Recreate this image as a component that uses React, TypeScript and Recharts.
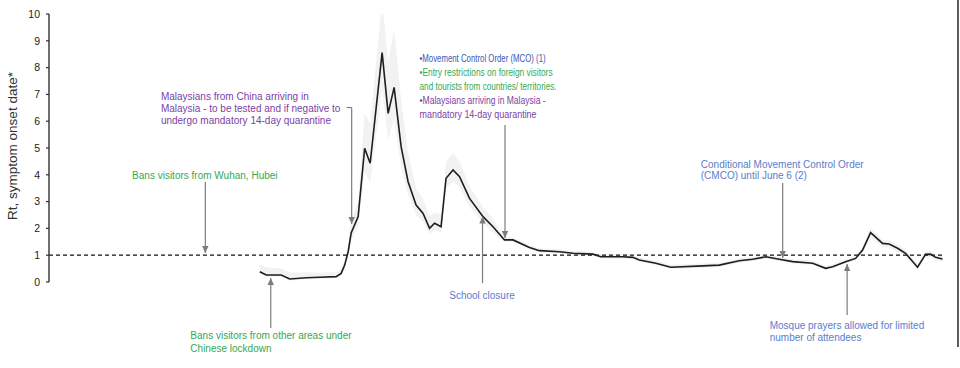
import React from 'react';
import {
  ComposedChart,
  Line,
  Area,
  XAxis,
  YAxis,
  ReferenceLine,
  ReferenceDot,
} from 'recharts';

// Days since the start of the series (fractional where the estimate falls between days)
const dayIndex = [
  42.2, 43.5, 46.5, 48.2, 51.5, 54.2, 57.5, 58.5, 59.2, 59.9,
  60.5, 61.9, 63.2, 64.3, 66.7, 67.9, 69.1, 70.5, 71.9, 73.5,
  74.9, 76.2, 77.2, 78.5, 79.5, 80.9, 82.2, 84.2, 86.9, 88.9,
  91.2, 92.9, 96.2, 98.2, 102.2, 104.9, 108.9, 110.5, 114.9, 116.9,
  118.2, 121.5, 124.5, 130.9, 134.2, 138.2, 140.9, 143.5, 146.2, 148.9,
  152.9, 155.5, 156.9, 159.5, 161.5, 162.9, 164.5, 166.9, 168.2, 169.9,
  171.5, 173.9, 175.5, 176.5, 177.5, 178.9,
];

// Effective reproduction number by symptom onset date
const rtValues = [
  0.38, 0.26, 0.26, 0.11, 0.16, 0.18, 0.2, 0.32, 0.63, 1.13,
  1.83, 2.44, 4.99, 4.43, 8.56, 6.29, 7.26, 5.05, 3.74, 2.87,
  2.56, 2.0, 2.19, 2.06, 3.87, 4.18, 3.93, 3.12, 2.44, 2.06,
  1.57, 1.57, 1.29, 1.17, 1.13, 1.07, 1.04, 0.94, 0.94, 0.92,
  0.82, 0.7, 0.55, 0.6, 0.63, 0.79, 0.85, 0.94, 0.85, 0.76,
  0.7, 0.51, 0.57, 0.76, 0.88, 1.19, 1.84, 1.44, 1.42, 1.26,
  1.07, 0.55, 1.03, 1.04, 0.92, 0.86,
];

// Lower / upper bounds of the uncertainty band
const ciLow = [
  0.3, 0.2, 0.2, 0.06, 0.1, 0.12, 0.14, 0.25, 0.5, 0.95,
  1.55, 2.1, 4.1, 3.7, 7.2, 5.3, 6.1, 4.3, 3.25, 2.5,
  2.25, 1.8, 1.95, 1.85, 3.45, 3.75, 3.55, 2.8, 2.2, 1.85,
  1.5, 1.5, 1.22, 1.1, 1.06, 1.0, 0.97, 0.87, 0.87, 0.85,
  0.75, 0.63, 0.48, 0.53, 0.56, 0.72, 0.78, 0.87, 0.78, 0.69,
  0.63, 0.44, 0.5, 0.69, 0.8, 1.08, 1.65, 1.3, 1.28, 1.12,
  0.95, 0.45, 0.9, 0.92, 0.8, 0.75,
];
const ciHigh = [
  0.65, 0.55, 0.5, 0.35, 0.35, 0.35, 0.35, 0.5, 0.85, 1.4,
  2.3, 3.0, 6.3, 5.9, 10.5, 8.2, 9.4, 6.8, 4.8, 3.5,
  3.1, 2.45, 2.6, 2.5, 4.5, 4.8, 4.5, 3.55, 2.8, 2.35,
  1.67, 1.67, 1.38, 1.26, 1.22, 1.16, 1.13, 1.03, 1.03, 1.01,
  0.91, 0.79, 0.64, 0.69, 0.72, 0.88, 0.94, 1.03, 0.94, 0.85,
  0.79, 0.6, 0.66, 0.85, 0.97, 1.32, 2.02, 1.58, 1.56, 1.4,
  1.2, 0.68, 1.16, 1.16, 1.04, 0.98,
];

const yTicks = [0, 1, 2, 3, 4, 5, 6, 7, 8, 9, 10];
const threshold = 1;
const dayDomain: [number, number] = [0, 182];

const data = dayIndex.map((t, i) => ({
  t,
  rt: rtValues[i],
  ci: [ciLow[i], ciHigh[i]],
}));

const FONT = '"Liberation Sans", Arial, sans-serif';
const GREEN = '#35a853';
const PURPLE = '#7a3fa6';
const BLUE_DARK = '#4058b5';
const BLUE = '#5b7ccc';
const ARROW = '#7c7c7c';

type NoteLine = { text: string; color: string; w?: number };
type Note = {
  x: number;
  y: number;
  anchor: 'start' | 'middle';
  size: number;
  lh: number;
  lines: NoteLine[];
};

// Policy annotations, anchored in (day, Rt) units
const notes: Note[] = [
  {
    x: 31.2, y: 3.96, anchor: 'middle', size: 10, lh: 12,
    lines: [{ text: 'Bans visitors from Wuhan, Hubei', color: GREEN }],
  },
  {
    x: 28.3, y: -1.98, anchor: 'start', size: 10, lh: 13,
    lines: [
      { text: 'Bans visitors from other areas under', color: GREEN },
      { text: 'Chinese lockdown', color: GREEN },
    ],
  },
  {
    x: 22.4, y: 6.94, anchor: 'start', size: 10, lh: 12,
    lines: [
      { text: 'Malaysians from China arriving in', color: PURPLE },
      { text: 'Malaysia - to be tested and if negative to', color: PURPLE },
      { text: 'undergo mandatory 14-day quarantine', color: PURPLE },
    ],
  },
  {
    x: 74.2, y: 8.36, anchor: 'start', size: 10.5, lh: 14,
    lines: [
      { text: '•Movement Control Order (MCO) (1)', color: BLUE_DARK, w: 126 },
      { text: '•Entry restrictions on foreign visitors', color: GREEN, w: 133 },
      { text: 'and tourists from countries/ territories.', color: GREEN, w: 137 },
      { text: '•Malaysians arriving in Malaysia -', color: PURPLE, w: 126 },
      { text: 'mandatory 14-day quarantine', color: PURPLE, w: 117 },
    ],
  },
  {
    x: 86.7, y: -0.52, anchor: 'middle', size: 10, lh: 12,
    lines: [{ text: 'School closure', color: BLUE }],
  },
  {
    x: 130.5, y: 4.4, anchor: 'start', size: 10, lh: 11.5,
    lines: [
      { text: 'Conditional Movement Control Order', color: BLUE },
      { text: '(CMCO) until June 6 (2)', color: BLUE },
    ],
  },
  {
    x: 144.3, y: -1.64, anchor: 'start', size: 10, lh: 11.5,
    lines: [
      { text: 'Mosque prayers allowed for limited', color: BLUE },
      { text: 'number of attendees', color: BLUE },
    ],
  },
];

// Arrow shafts: x, tail value, tip value
const arrows = [
  { x: 31.3, from: 3.73, to: 1.08 },
  { x: 44.4, from: -1.72, to: 0.15 },
  { x: 60.6, from: 6.51, to: 2.16 },
  { x: 91.3, from: 5.86, to: 1.64 },
  { x: 86.8, from: -0.04, to: 2.44 },
  { x: 146.9, from: 3.69, to: 0.9 },
  { x: 159.8, from: -1.23, to: 0.67 },
];

const noteShape = (note: Note) => (p: any) => (
  <g fontFamily={FONT} fontSize={note.size}>
    {note.lines.map((ln, i) => (
      <text
        key={i}
        x={p.cx}
        y={p.cy + i * note.lh}
        dy="0.35em"
        fill={ln.color}
        textAnchor={note.anchor}
        {...(ln.w ? { textLength: ln.w, lengthAdjust: 'spacingAndGlyphs' } : {})}
      >
        {ln.text}
      </text>
    ))}
  </g>
);

const headShape = (down: boolean) => (p: any) => {
  const { cx, cy } = p;
  const h = 7;
  const w = 3.2;
  const by = down ? cy - h : cy + h;
  return <polygon points={`${cx - w},${by} ${cx + w},${by} ${cx},${cy}`} fill={ARROW} />;
};

const YLabel = (p: any) => {
  const vb = p.viewBox || { x: 9, y: 14, height: 268 };
  const x = vb.x + 7.5;
  const y = vb.y + vb.height / 2 - 2;
  return (
    <text
      x={x}
      y={y}
      transform={`rotate(-90, ${x}, ${y})`}
      textAnchor="middle"
      fontFamily={FONT}
      fontSize={13.5}
      fill="#333"
    >
      Rt, symptom onset date*
    </text>
  );
};

export default function App() {
  return (
    <div style={{ position: 'absolute', left: 0, top: 0, width: 960, height: 368, background: '#fff' }}>
      <ComposedChart
        width={960}
        height={368}
        data={data}
        margin={{ top: 14, right: 2, bottom: 86, left: 9 }}
      >
        <XAxis type="number" dataKey="t" domain={dayDomain} hide />
        <YAxis
          type="number"
          domain={[0, 10]}
          ticks={yTicks}
          allowDataOverflow
          width={40}
          tickSize={3}
          tickMargin={6}
          axisLine={{ stroke: '#333', strokeWidth: 1.4 }}
          tickLine={{ stroke: '#333', strokeWidth: 1.2 }}
          tick={{ fill: '#222', fontSize: 10.5, fontFamily: FONT }}
          label={{ content: YLabel }}
        />
        <Area
          dataKey="ci"
          type="linear"
          stroke="none"
          fill="#f2f2f2"
          fillOpacity={1}
          isAnimationActive={false}
        />
        <ReferenceLine
          segment={[{ x: 0, y: threshold }, { x: 179.2, y: threshold }]}
          stroke="#111"
          strokeWidth={1.2}
          strokeDasharray="4 3"
          ifOverflow="visible"
        />
        <Line
          dataKey="rt"
          type="linear"
          stroke="#1e1e1e"
          strokeWidth={1.6}
          dot={false}
          isAnimationActive={false}
        />
        {/* bracket leading from the China note */}
        <ReferenceLine
          segment={[{ x: 59.6, y: 6.51 }, { x: 60.6, y: 6.51 }]}
          stroke={ARROW}
          strokeWidth={1.2}
          ifOverflow="visible"
        />
        {arrows.map((a, i) => (
          <ReferenceLine
            key={`s${i}`}
            segment={[{ x: a.x, y: a.from }, { x: a.x, y: a.to }]}
            stroke={ARROW}
            strokeWidth={1.2}
            ifOverflow="visible"
          />
        ))}
        {arrows.map((a, i) => (
          <ReferenceDot
            key={`h${i}`}
            x={a.x}
            y={a.to}
            r={0}
            ifOverflow="visible"
            shape={headShape(a.to < a.from)}
          />
        ))}
        {notes.map((n, i) => (
          <ReferenceDot
            key={`n${i}`}
            x={n.x}
            y={n.y}
            r={0}
            ifOverflow="visible"
            shape={noteShape(n)}
          />
        ))}
        {/* right-hand frame edge */}
        <ReferenceLine
          segment={[{ x: dayDomain[1], y: 10.52 }, { x: dayDomain[1], y: -2.43 }]}
          stroke="#333"
          strokeWidth={1.6}
          ifOverflow="visible"
        />
      </ComposedChart>
    </div>
  );
}
